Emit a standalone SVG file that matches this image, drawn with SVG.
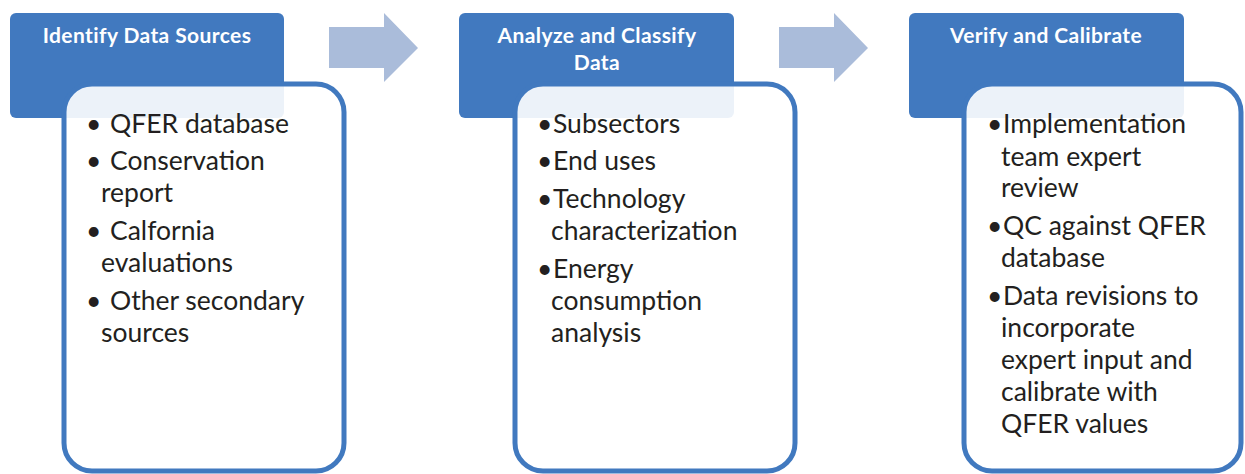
<svg xmlns="http://www.w3.org/2000/svg" width="1245" height="474" viewBox="0 0 1245 474">
<style>
.hdr{fill:#4179BF;}
.body{fill:#ffffff;fill-opacity:0.9;stroke:#4179BF;stroke-width:5;}
.arrow{fill:#AABCDA;}
.ht{font-family:Lato,"Liberation Sans",sans-serif;font-weight:bold;font-size:21px;letter-spacing:0.4px;fill:#ffffff;text-anchor:middle;}
.bt{font-family:Lato,"Liberation Sans",sans-serif;font-size:26.5px;fill:#231F20;}
</style>
<rect width="1245" height="474" fill="#ffffff"/>
<g id="connectors">
<path class="arrow" d="M329,27 H384 V13 L418,48 L384,82 V68 H329 Z"/>
<path class="arrow" d="M779,27 H834 V13 L868,48 L834,82 V68 H779 Z"/>
</g>
<g id="step1">
<rect class="hdr" x="10" y="13" width="274" height="105" rx="6"/>
<text class="ht" x="147" y="43">Identify Data Sources</text>
<rect class="body" x="64" y="84" width="280" height="387" rx="28"/>
<text class="bt"><tspan x="86" y="133">•</tspan><tspan x="110" y="133">QFER database</tspan><tspan x="86" y="170">•</tspan><tspan x="110" y="170">Conservation</tspan><tspan x="101" y="202">report</tspan><tspan x="86" y="240">•</tspan><tspan x="110" y="240">Calfornia</tspan><tspan x="101" y="272">evaluations</tspan><tspan x="86" y="310">•</tspan><tspan x="110" y="310">Other secondary</tspan><tspan x="101" y="342">sources</tspan></text>
</g>
<g id="step2">
<rect class="hdr" x="459" y="13" width="275" height="105" rx="6"/>
<text class="ht"><tspan x="597" y="43">Analyze and Classify</tspan><tspan x="597" y="70">Data</tspan></text>
<rect class="body" x="515" y="84" width="280" height="387" rx="28"/>
<text class="bt"><tspan x="537" y="133">•</tspan><tspan x="553" y="133">Subsectors</tspan><tspan x="537" y="170">•</tspan><tspan x="553" y="170">End uses</tspan><tspan x="537" y="208">•</tspan><tspan x="553" y="208">Technology</tspan><tspan x="551" y="240">characterization</tspan><tspan x="537" y="278">•</tspan><tspan x="553" y="278">Energy</tspan><tspan x="551" y="310">consumption</tspan><tspan x="551" y="342">analysis</tspan></text>
</g>
<g id="step3">
<rect class="hdr" x="909" y="13" width="275" height="105" rx="6"/>
<text class="ht" x="1046" y="43">Verify and Calibrate</text>
<rect class="body" x="964" y="84" width="277" height="387" rx="28"/>
<text class="bt"><tspan x="987" y="133">•</tspan><tspan x="1003" y="133">Implementation</tspan><tspan x="1001" y="166">team expert</tspan><tspan x="1001" y="197">review</tspan><tspan x="987" y="235">•</tspan><tspan x="1003" y="235">QC against QFER</tspan><tspan x="1001" y="267">database</tspan><tspan x="987" y="305">•</tspan><tspan x="1003" y="305">Data revisions to</tspan><tspan x="1001" y="337">incorporate</tspan><tspan x="1001" y="369">expert input and</tspan><tspan x="1001" y="401">calibrate with</tspan><tspan x="1001" y="433">QFER values</tspan></text>
</g>
</svg>
